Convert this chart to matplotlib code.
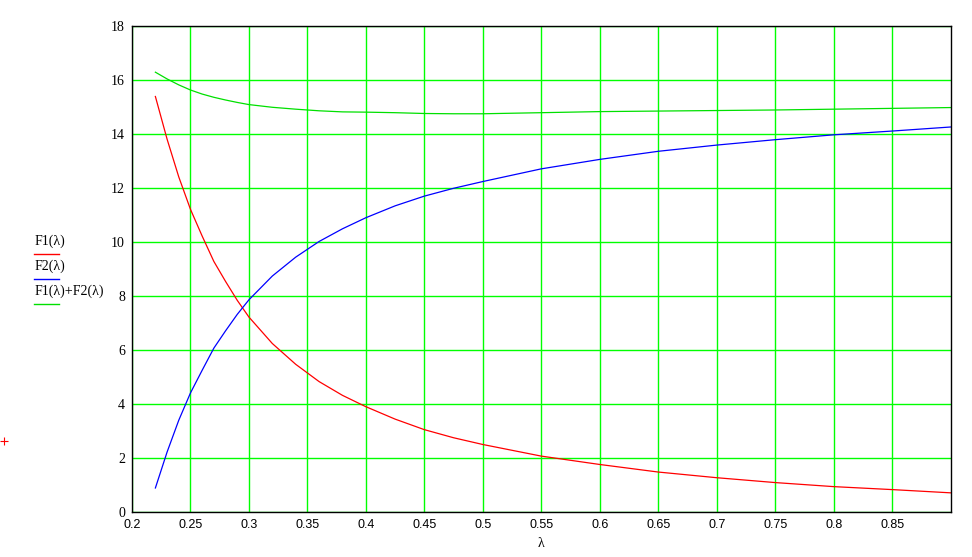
import numpy as np
import matplotlib
matplotlib.use("Agg")
import matplotlib.pyplot as plt
from matplotlib.lines import Line2D

# lambda samples and the two functions
lam = [0.22, 0.23, 0.24, 0.25, 0.26, 0.27, 0.28, 0.29, 0.30, 0.32, 0.34,
       0.36, 0.38, 0.40, 0.425, 0.45, 0.475, 0.50, 0.55, 0.60, 0.65, 0.70,
       0.75, 0.80, 0.85, 0.90]
F1 = [15.4, 13.82, 12.42, 11.22, 10.23, 9.29, 8.55, 7.85, 7.23, 6.25, 5.48,
      4.84, 4.33, 3.91, 3.45, 3.06, 2.76, 2.51, 2.08, 1.77, 1.49, 1.28,
      1.10, 0.95, 0.84, 0.72]
F2 = [0.9, 2.23, 3.41, 4.42, 5.26, 6.08, 6.72, 7.33, 7.87, 8.75, 9.45,
      10.03, 10.5, 10.91, 11.35, 11.71, 12.0, 12.25, 12.72, 13.07, 13.37, 13.6,
      13.8, 13.98, 14.12, 14.27]
F_sum = np.array(F1) + np.array(F2)

xticks = [0.2, 0.25, 0.3, 0.35, 0.4, 0.45, 0.5, 0.55, 0.6, 0.65, 0.7, 0.75, 0.8, 0.85]
xlabels = ["0.2", "0.25", "0.3", "0.35", "0.4", "0.45", "0.5", "0.55", "0.6",
           "0.65", "0.7", "0.75", "0.8", "0.85"]
yticks = [0, 2, 4, 6, 8, 10, 12, 14, 16, 18]

legend_names = ["F1(\u03bb)", "F2(\u03bb)", "F1(\u03bb)+F2(\u03bb)"]
colors = ["#ff0000", "#0000ff", "#00e000"]

fig = plt.figure(figsize=(9.72, 5.57), dpi=100)
ax = fig.add_axes([0.1358, 0.0803, 0.978 - 0.1358, 0.9528 - 0.0803])

ax.plot(lam, F1, color=colors[0], lw=0.9)
ax.plot(lam, F2, color=colors[1], lw=0.9)
ax.plot(lam, F_sum, color=colors[2], lw=0.9)

ax.set_xlim(0.2, 0.9)
ax.set_ylim(0, 18)
ax.set_xticks(xticks)
ax.set_xticklabels(xlabels, family="Liberation Sans", fontsize=9)
ax.set_yticks(yticks)
ax.set_yticklabels([str(v) for v in yticks], family="Liberation Serif", fontsize=10)
ax.tick_params(length=0, pad=5)
ax.grid(True, color="#00ff00", lw=1.0)
ax.set_axisbelow(True)
for s in ax.spines.values():
    s.set_color("black")
    s.set_linewidth(1.0)

ax.set_xlabel("\u03bb", family="Liberation Serif", fontsize=10, labelpad=4)

# legend block on the left, Mathcad style
text_y = [241, 266, 291]
line_y = [254, 279, 304]
for name, c, ty, ly in zip(legend_names, colors, text_y, line_y):
    fig.text(35 / 972, 1 - ty / 557, name, family="Liberation Serif",
             fontsize=10, va="center", ha="left")
    fig.add_artist(Line2D([34 / 972, 59 / 972], [1 - ly / 557, 1 - ly / 557],
                          color=c, lw=1.0))

# small red cursor cross at the left edge
fig.add_artist(Line2D([4 / 972], [1 - 441.3 / 557], marker="+", color="red",
                      markersize=6, markeredgewidth=0.8, linestyle="none"))

fig.savefig("out.png", dpi=100)
